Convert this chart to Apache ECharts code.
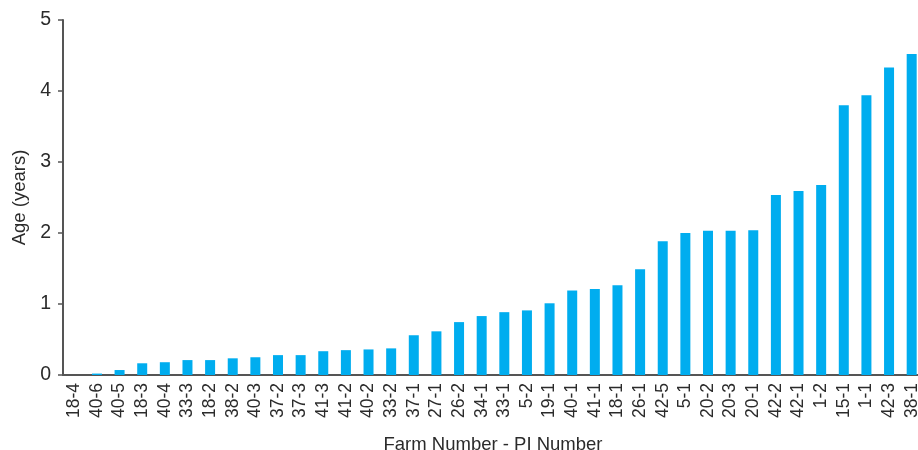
<!DOCTYPE html>
<html lang="en">
<head>
    <meta charset="UTF-8">
    <title>Age by Farm - PI</title>
    <style>
        * { padding: 0; margin: 0; }
        html, body { width: 918px; height: 450px; background: #fff; }
        #chart { width: 918px; height: 450px; }
    </style>
</head>
<body>
    <div id="chart"></div>
    <script src="https://cdn.jsdelivr.net/npm/echarts@6/dist/echarts.min.js"></script>
    <script type="text/javascript">
        // farm number - PI number
        const categories = ['18-4', '40-6', '40-5', '18-3', '40-4', '33-3', '18-2', '38-2', '40-3', '37-2',
            '37-3', '41-3', '41-2', '40-2', '33-2', '37-1', '27-1', '26-2', '34-1', '33-1',
            '5-2', '19-1', '40-1', '41-1', '18-1', '26-1', '42-5', '5-1', '20-2', '20-3',
            '20-1', '42-2', '42-1', '1-2', '15-1', '1-1', '42-3', '38-1'];
        // age in years
        const ages = [0, 0.02, 0.07, 0.165, 0.18, 0.21, 0.21, 0.235, 0.25, 0.28,
            0.28, 0.335, 0.35, 0.36, 0.375, 0.56, 0.615, 0.745, 0.83, 0.885,
            0.91, 1.01, 1.19, 1.21, 1.265, 1.49, 1.885, 2.0, 2.03, 2.03,
            2.04, 2.535, 2.59, 2.675, 3.8, 3.94, 4.33, 4.52];
        const yTicks = [0, 1, 2, 3, 4, 5];

        const font = 'Liberation Sans, Arial, sans-serif';
        const textColor = '#2b2b2b';
        const axisColor = '#555';

        var myChart = echarts.init(document.getElementById('chart'), null, { renderer: 'canvas' });
        var option = {
            animation: false,
            grid: {
                left: 63,
                right: -5,
                top: 20,
                bottom: 75,
                outerBoundsMode: 'none'
            },
            xAxis: {
                type: 'category',
                data: categories,
                name: 'Farm Number - PI Number',
                nameLocation: 'middle',
                nameGap: 60,
                nameTextStyle: { color: textColor, fontSize: 18.5, fontFamily: font },
                axisLine: { lineStyle: { color: axisColor, width: 2 } },
                axisTick: { show: false },
                axisLabel: {
                    rotate: 90,
                    interval: 0,
                    margin: 8,
                    color: textColor,
                    fontSize: 17.5,
                    fontFamily: font
                }
            },
            yAxis: {
                type: 'value',
                min: yTicks[0],
                max: yTicks[yTicks.length - 1],
                interval: 1,
                name: 'Age (years)',
                nameLocation: 'middle',
                nameGap: 33,
                nameTextStyle: { color: textColor, fontSize: 18.5, fontFamily: font },
                axisLine: { show: true, lineStyle: { color: axisColor, width: 2 } },
                axisTick: { show: true, length: 5, lineStyle: { color: axisColor, width: 1.5 } },
                axisLabel: {
                    margin: 12,
                    color: textColor,
                    fontSize: 19.5,
                    fontFamily: font
                },
                splitLine: { show: false }
            },
            series: [{
                type: 'bar',
                data: ages,
                barWidth: 10,
                itemStyle: { color: '#00adef' }
            }]
        };
        myChart.setOption(option);
    </script>
</body>
</html>
